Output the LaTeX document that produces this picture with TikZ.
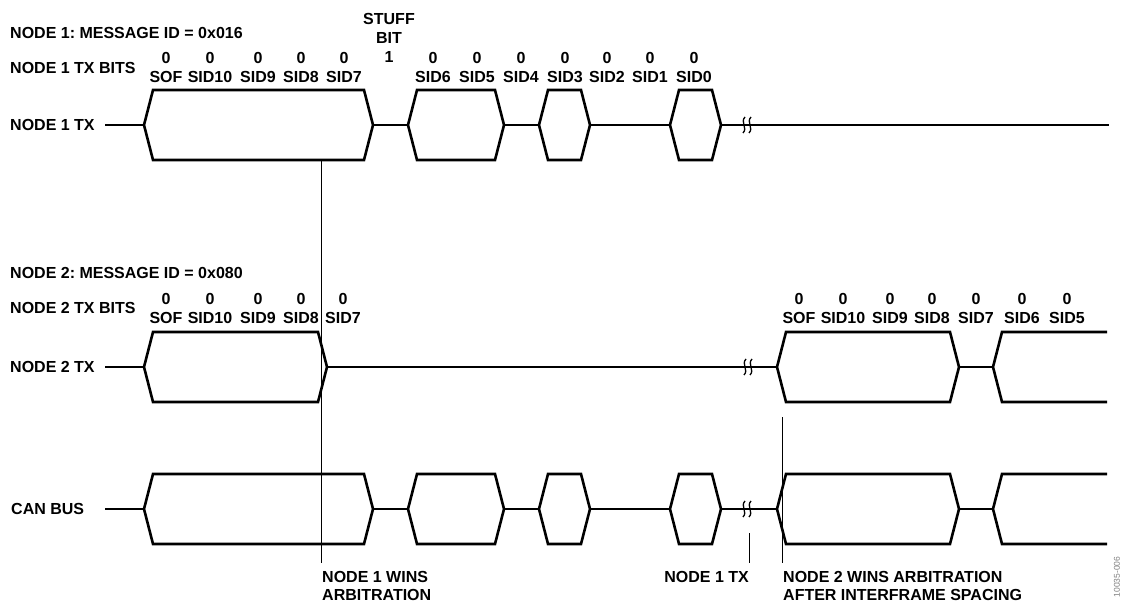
\documentclass[tikz,border=0pt]{standalone}
\usepackage{fontspec}
\setmainfont{Liberation Sans}
\usetikzlibrary{positioning}
\frenchspacing
\tikzstyle{lbl}=[inner sep=0pt,font=\fontsize{16}{19}\selectfont\bfseries]
\tikzstyle{bitl}=[lbl,align=center]
\tikzstyle{note}=[lbl,align=left,font=\fontsize{16}{18}\selectfont\bfseries]
\tikzstyle{sig}=[line width=2.6pt,line join=miter]
\tikzstyle{cursor}=[line width=0.9pt]
\tikzstyle{brk}=[line width=1.3pt]
% one dominant field on a bus line: left x, right x, middle y
\newcommand{\busword}[3]{\draw[sig] (#1,#3) -- (#1+9,#3-35) -- (#2-9,#3-35) -- (#2,#3) -- (#2-9,#3+35) -- (#1+9,#3+35) -- cycle;}
% time break on a line
\newcommand{\wavebreak}[2]{%
\draw[brk] (#1+1,#2-8) .. controls (#1-4,#2-3) and (#1+4,#2+3) .. (#1-1,#2+8);
\draw[brk] (#1+7,#2-8) .. controls (#1+2,#2-3) and (#1+10,#2+3) .. (#1+5,#2+8);}

\begin{document}
\begin{tikzpicture}[x=1pt,y=-1pt]
\useasboundingbox (0,0) rectangle (1122,604);

% node 1
\node (id1) [lbl,anchor=west] at (10,33) {NODE 1: MESSAGE ID = 0x016};
\node (bits1) [lbl,anchor=west] at (10,68) {NODE 1 TX BITS};
\node (tx1) [lbl,anchor=west] at (10,125) {NODE 1 TX};
\node (stuff) [bitl] at (389,38) {STUFF\\BIT\\1};
\node (a1) [bitl] at (166,67.5) {0\\SOF};
\node (a2) [bitl] at (210,67.5) {0\\SID10};
\node (a3) [bitl] at (258,67.5) {0\\SID9};
\node (a4) [bitl] at (301,67.5) {0\\SID8};
\node (a5) [bitl] at (344,67.5) {0\\SID7};
\node (a6) [bitl] at (433,67.5) {0\\SID6};
\node (a7) [bitl] at (477,67.5) {0\\SID5};
\node (a8) [bitl] at (521,67.5) {0\\SID4};
\node (a9) [bitl] at (565,67.5) {0\\SID3};
\node (a10) [bitl] at (607,67.5) {0\\SID2};
\node (a11) [bitl] at (650,67.5) {0\\SID1};
\node (a12) [bitl] at (694,67.5) {0\\SID0};
\draw [sig] (105,125) -- (144,125);
\busword{144}{373}{125}
\draw [sig] (373,125) -- (408,125);
\busword{408}{504}{125}
\draw [sig] (504,125) -- (539,125);
\busword{539}{590}{125}
\draw [sig] (590,125) -- (670,125);
\busword{670}{721}{125}
\draw [sig] (721,125) -- (1109,125);
\wavebreak{744}{125}

% node 2
\node (id2) [lbl,anchor=west] at (10,273) {NODE 2: MESSAGE ID = 0x080};
\node (bits2) [lbl,anchor=west] at (10,308) {NODE 2 TX BITS};
\node (tx2) [lbl,anchor=west] at (10,367) {NODE 2 TX};
\node (b1) [bitl] at (166,308) {0\\SOF};
\node (b2) [bitl] at (210,308) {0\\SID10};
\node (b3) [bitl] at (258,308) {0\\SID9};
\node (b4) [bitl] at (301,308) {0\\SID8};
\node (b5) [bitl] at (343,308) {0\\SID7};
\node (c1) [bitl] at (799,308) {0\\SOF};
\node (c2) [bitl] at (843,308) {0\\SID10};
\node (c3) [bitl] at (890,308) {0\\SID9};
\node (c4) [bitl] at (932,308) {0\\SID8};
\node (c5) [bitl] at (976,308) {0\\SID7};
\node (c6) [bitl] at (1022,308) {0\\SID6};
\node (c7) [bitl] at (1067,308) {0\\SID5};
\draw [sig] (105,367) -- (144,367);
\busword{144}{327}{367}
\draw [sig] (327,367) -- (777,367);
\wavebreak{745}{367}
\busword{777}{959}{367}
\draw [sig] (959,367) -- (993,367);
\draw [sig] (1107,332) -- (1002,332) -- (993,367) -- (1002,402) -- (1107,402);

% bus
\node (bus) [lbl,anchor=west] at (11,509) {CAN BUS};
\draw [sig] (105,509) -- (144,509);
\busword{144}{373}{509}
\draw [sig] (373,509) -- (408,509);
\busword{408}{504}{509}
\draw [sig] (504,509) -- (539,509);
\busword{539}{590}{509}
\draw [sig] (590,509) -- (670,509);
\busword{670}{721}{509}
\draw [sig] (721,509) -- (777,509);
\wavebreak{744}{509}
\busword{777}{959}{509}
\draw [sig] (959,509) -- (993,509);
\draw [sig] (1107,474) -- (1002,474) -- (993,509) -- (1002,544) -- (1107,544);

% cursors
\coordinate (arb1top) at (321,160);
\coordinate (arb1bot) at (321,563);
\coordinate (txtop) at (749,533);
\coordinate (txbot) at (749,563);
\coordinate (arb2top) at (782,417);
\coordinate (arb2bot) at (782,563);
\draw [cursor] (arb1top) -- (arb1bot);
\draw [cursor] (txtop) -- (txbot);
\draw [cursor] (arb2top) -- (arb2bot);
\node (win1) [note,anchor=west] at (322,586) {NODE 1 WINS\\ARBITRATION};
\node (txend) [lbl,anchor=east] at (749,577) {NODE 1 TX};
\node (win2) [note,anchor=west] at (783,586) {NODE 2 WINS ARBITRATION\\AFTER INTERFRAME SPACING};
\node (figno) [rotate=90,text=gray,inner sep=0pt,font=\fontsize{8.5}{9}\selectfont] at (1117,577) {10035-006};
\end{tikzpicture}
\end{document}
